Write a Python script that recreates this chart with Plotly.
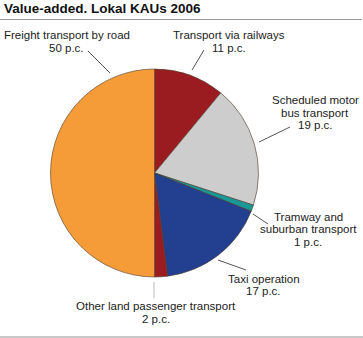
import plotly.graph_objects as go

W, H = 363, 338

categories = ["Transport via railways", "Scheduled motor bus transport",
              "Tramway and suburban transport", "Taxi operation",
              "Other land passenger transport", "Freight transport by road"]
values = [11, 19, 1, 17, 2, 50]
label_lines = [["Transport via railways", "11 p.c."],
               ["Scheduled motor", "bus transport", "19 p.c."],
               ["Tramway and", "suburban transport", "1 p.c."],
               ["Taxi operation", "17 p.c."],
               ["Other land passenger transport", "2 p.c."],
               ["Freight transport by road", "50 p.c."]]
colors = ["#9B1C20", "#CDCDCD", "#1A9898", "#233F8F", "#9B1C20", "#F59B38"]

# label placement (pixels): text centre x, first line centre y; leader line ends
label_pos = [(229, 35), (315, 100), (308, 216.5), (263.5, 278.5), (155.5, 306), (66.5, 35)]
line_step = 12.6
leaders = [((204, 50), (192, 70)), ((290, 127), (259, 142)),
           ((268, 224), (253, 214)), ((246, 270), (218, 260)),
           ((154, 282), (154, 298)), ((88, 51), (110, 73))]
leader_colors = ["#555555", "#555555", "#555555", "#555555", "#BBBBBB", "#555555"]

def px(x):
    return x / W

def py(y):
    return 1 - y / H

cx, cy, r = 154.5, 173, 104

fig = go.Figure(go.Pie(
    labels=categories, values=values, sort=False, direction="clockwise",
    rotation=0, textinfo="none", hoverinfo="label+percent",
    marker=dict(colors=colors, line=dict(color="#4a3a2a", width=0.6)),
    domain=dict(x=[px(cx - r), px(cx + r)], y=[py(cy + r), py(cy - r)]),
    showlegend=False,
))

FONT = "Liberation Sans, Arial, sans-serif"
annotations = [dict(text="<b>Value-added. Lokal KAUs 2006</b>", x=px(1.5), y=py(8.5),
                    xref="paper", yref="paper", xanchor="left", yanchor="middle",
                    showarrow=False, font=dict(size=13.5, color="#111", family=FONT))]
for lines, (lx, ly) in zip(label_lines, label_pos):
    for i, t in enumerate(lines):
        annotations.append(dict(text=t, x=px(lx), y=py(ly + i * line_step),
                                xref="paper", yref="paper",
                                xanchor="center", yanchor="middle", showarrow=False,
                                font=dict(size=11.5, color="#222", family=FONT)))

shapes = [dict(type="line", xref="paper", yref="paper", x0=0, x1=px(362), y0=py(19.5), y1=py(19.5),
               line=dict(color="#999999", width=1)),
          dict(type="line", xref="paper", yref="paper", x0=0, x1=1, y0=py(337), y1=py(337),
               line=dict(color="#C8C8C8", width=2))]
for ((x0, y0), (x1, y1)), c in zip(leaders, leader_colors):
    shapes.append(dict(type="line", xref="paper", yref="paper", x0=px(x0), y0=py(y0),
                       x1=px(x1), y1=py(y1), line=dict(color=c, width=1)))

fig.update_layout(width=W, height=H, margin=dict(l=0, r=0, t=0, b=0),
                  paper_bgcolor="white", plot_bgcolor="white",
                  annotations=annotations, shapes=shapes)

fig.write_html("out.html")
